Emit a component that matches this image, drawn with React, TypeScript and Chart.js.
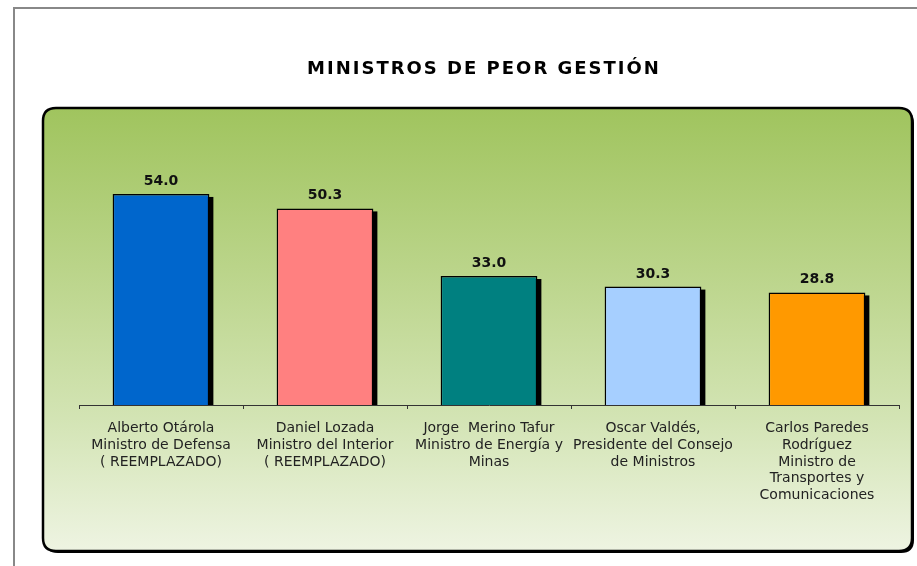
import React, { useEffect, useRef } from "react";
import { Chart, registerables } from "chart.js";

Chart.register(...registerables);

const TITLE = "MINISTROS DE PEOR GESTIÓN";
const CATEGORIES: string[][] = [
  ["Alberto Otárola", "Ministro de Defensa", "( REEMPLAZADO)"],
  ["Daniel Lozada", "Ministro del Interior", "( REEMPLAZADO)"],
  ["Jorge  Merino Tafur", "Ministro de Energía y", "Minas"],
  ["Oscar Valdés,", "Presidente del Consejo", "de Ministros"],
  ["Carlos Paredes", "Rodríguez", "Ministro de", "Transportes y", "Comunicaciones"],
];
const VALUES: number[] = [54.0, 50.3, 33.0, 30.3, 28.8];
const BAR_COLORS: string[] = ["#0066CC", "#FF8080", "#008080", "#A6CFFF", "#FF9900"];

const FONT = "'DejaVu Sans', Verdana, sans-serif";

function roundRect(ctx: CanvasRenderingContext2D, x: number, y: number, w: number, h: number, r: number) {
  ctx.beginPath();
  ctx.moveTo(x + r, y);
  ctx.lineTo(x + w - r, y);
  ctx.quadraticCurveTo(x + w, y, x + w, y + r);
  ctx.lineTo(x + w, y + h - r);
  ctx.quadraticCurveTo(x + w, y + h, x + w - r, y + h);
  ctx.lineTo(x + r, y + h);
  ctx.quadraticCurveTo(x, y + h, x, y + h - r);
  ctx.lineTo(x, y + r);
  ctx.quadraticCurveTo(x, y, x + r, y);
  ctx.closePath();
}

const backgroundPlugin = {
  id: "bgPanel",
  beforeDraw(chart: any) {
    const ctx: CanvasRenderingContext2D = chart.ctx;
    const W = chart.width;
    const H = chart.height;
    ctx.save();
    ctx.fillStyle = "#ffffff";
    ctx.fillRect(0, 0, W, H);
    // outer frame
    ctx.strokeStyle = "#888888";
    ctx.lineWidth = 2;
    ctx.beginPath();
    ctx.moveTo(14, H + 5);
    ctx.lineTo(14, 8);
    ctx.lineTo(W + 5, 8);
    ctx.stroke();
    // title
    ctx.fillStyle = "#000000";
    ctx.font = `bold 18px ${FONT}`;
    (ctx as any).letterSpacing = "2px";
    ctx.textAlign = "center";
    ctx.textBaseline = "middle";
    ctx.fillText(TITLE, 484, 69);
    (ctx as any).letterSpacing = "0px";
    // panel
    const px = 43, py = 108, pw = 869, ph = 443, r = 13;
    ctx.fillStyle = "#000000";
    roundRect(ctx, px + 2, py + 2, pw, ph, r);
    ctx.fill();
    const g = ctx.createLinearGradient(0, py, 0, py + ph);
    g.addColorStop(0, "#A0C45E");
    g.addColorStop(0.4, "#BDD68E");
    g.addColorStop(0.7, "#D3E4B4");
    g.addColorStop(1, "#EEF4E2");
    roundRect(ctx, px, py, pw, ph, r);
    ctx.fillStyle = g;
    ctx.fill();
    ctx.strokeStyle = "#000000";
    ctx.lineWidth = 2.5;
    ctx.stroke();
    ctx.restore();
  },
};

const shadowPlugin = {
  id: "barShadow",
  beforeDatasetsDraw(chart: any) {
    const ctx: CanvasRenderingContext2D = chart.ctx;
    const meta = chart.getDatasetMeta(0);
    ctx.save();
    ctx.fillStyle = "#000000";
    meta.data.forEach((bar: any) => {
      const p = bar.getProps(["x", "y", "base", "width"], true);
      const left = p.x - p.width / 2;
      ctx.fillRect(left + 4, p.y + 3, p.width, p.base - p.y - 3);
    });
    ctx.restore();
  },
};

const valueLabelPlugin = {
  id: "valueLabels",
  afterDatasetsDraw(chart: any) {
    const ctx: CanvasRenderingContext2D = chart.ctx;
    const meta = chart.getDatasetMeta(0);
    const data = chart.data.datasets[0].data as number[];
    ctx.save();
    ctx.fillStyle = "#111111";
    ctx.font = `bold 14px ${FONT}`;
    ctx.textAlign = "center";
    ctx.textBaseline = "alphabetic";
    meta.data.forEach((bar: any, i: number) => {
      const p = bar.getProps(["x", "y"], true);
      ctx.fillText(data[i].toFixed(1), p.x, p.y - 9);
    });
    ctx.restore();
  },
};

export default function App() {
  const canvasRef = useRef<HTMLCanvasElement | null>(null);

  useEffect(() => {
    if (!canvasRef.current) return;
    const chart = new Chart(canvasRef.current, {
      type: "bar",
      data: {
        labels: CATEGORIES,
        datasets: [
          {
            data: VALUES,
            backgroundColor: BAR_COLORS,
            borderColor: "#000000",
            borderWidth: 1.5,
            barPercentage: 0.59,
            categoryPercentage: 1,
          },
        ],
      },
      options: {
        animation: false,
        responsive: true,
        maintainAspectRatio: false,
        devicePixelRatio: 1,
        layout: { padding: { left: 79, right: 18, top: 170.5, bottom: 0 } },
        plugins: {
          legend: { display: false },
          tooltip: { enabled: false },
          title: { display: false },
        },
        scales: {
          x: {
            offset: true,
            grid: {
              display: true,
              drawOnChartArea: false,
              drawTicks: true,
              tickLength: 4,
              color: "#333333",
              offset: true,
            },
            border: { display: true, color: "#333333", width: 1 },
            ticks: {
              color: "#222222",
              font: { family: FONT, size: 14, lineHeight: 1.2 },
              padding: 11,
              maxRotation: 0,
              autoSkip: false,
            },
            afterFit(scale: any) {
              scale.height = 161;
            },
          },
          y: {
            display: false,
            min: 0,
            max: 60,
          },
        },
      },
      plugins: [backgroundPlugin, shadowPlugin, valueLabelPlugin],
    });
    return () => chart.destroy();
  }, []);

  return (
    <div style={{ position: "absolute", left: 0, top: 0, width: 917, height: 566 }}>
      <canvas ref={canvasRef} />
    </div>
  );
}
